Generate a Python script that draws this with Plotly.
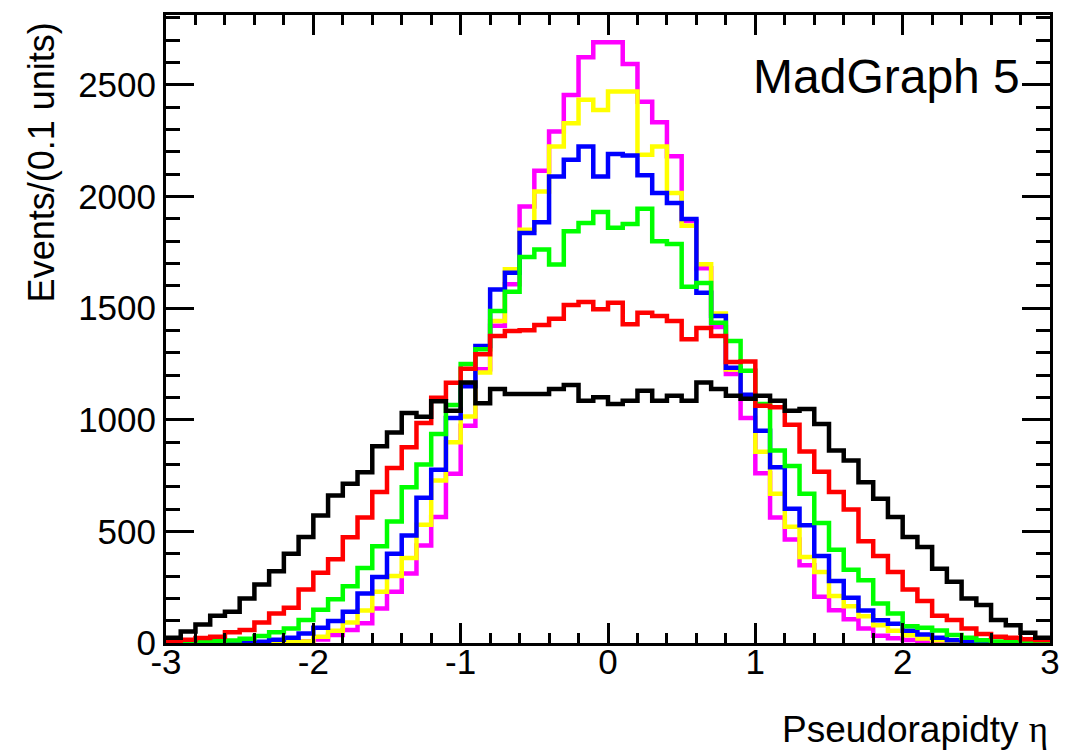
import plotly.graph_objects as go

# Pseudorapidity histograms, 60 bins of width 0.1 from -3 to 3
bin_lo = -3.0
bin_w = 0.1
n_bins = 60

magenta = [0, 0, 0, 0, 0, 1, 1, 2, 4, 8,
           16, 36, 58, 88, 155, 229, 311, 437, 564, 758,
           973, 1226, 1420, 1606, 1955, 2115, 2290, 2454, 2623, 2690,
           2690, 2593, 2424, 2332, 2179, 1890, 1678, 1415, 1204, 1008,
           760, 562, 463, 348, 207, 147, 106, 65, 32, 21,
           13, 8, 5, 3, 2, 1, 1, 0, 0, 0]
yellow = [0, 0, 0, 0, 1, 1, 2, 3, 4, 7,
          28, 55, 92, 145, 229, 300, 381, 530, 728, 899,
          1014, 1211, 1442, 1673, 1850, 2022, 2223, 2327, 2432, 2387,
          2470, 2469, 2186, 2223, 2015, 1868, 1696, 1475, 1225, 1105,
          856, 668, 520, 385, 318, 210, 165, 120, 80, 55,
          35, 20, 12, 8, 5, 3, 2, 1, 0, 0]
blue = [0, 0, 1, 1, 2, 3, 6, 15, 24, 42,
        68, 99, 140, 222, 296, 400, 481, 650, 776, 1008,
        1150, 1330, 1583, 1658, 1836, 1884, 2089, 2164, 2223, 2089,
        2190, 2183, 2094, 2015, 1970, 1898, 1568, 1464, 1232, 1112,
        950, 787, 601, 527, 390, 278, 203, 146, 102, 86,
        55, 38, 24, 12, 5, 2, 1, 1, 0, 0]
green = [2, 3, 5, 8, 11, 19, 31, 48, 65, 103,
         149, 196, 254, 336, 433, 544, 697, 799, 936, 1066,
         1249, 1315, 1487, 1573, 1728, 1762, 1695, 1844, 1881, 1930,
         1859, 1876, 1945, 1799, 1787, 1595, 1612, 1434, 1352, 1219,
         1070, 862, 793, 668, 537, 417, 328, 281, 177, 132,
         75, 68, 56, 36, 23, 12, 7, 5, 3, 2]
red = [10, 15, 22, 28, 48, 58, 92, 132, 158, 240,
       314, 375, 473, 562, 676, 784, 876, 985, 1098, 1165,
       1228, 1293, 1375, 1397, 1400, 1424, 1452, 1513, 1527, 1494,
       1524, 1427, 1479, 1464, 1442, 1360, 1410, 1375, 1258, 1260,
       1062, 1056, 977, 858, 767, 676, 598, 456, 390, 318,
       240, 188, 122, 103, 65, 40, 28, 23, 17, 13]
black = [24, 51, 83, 122, 140, 199, 262, 321, 400, 475,
         571, 661, 713, 765, 881, 943, 1030, 1013, 1082, 1040,
         1167, 1073, 1137, 1115, 1115, 1115, 1137, 1155, 1085, 1100,
         1070, 1085, 1129, 1085, 1107, 1085, 1167, 1137, 1107, 1094,
         1107, 1085, 1040, 1048, 981, 862, 817, 720, 646, 564,
         475, 430, 333, 274, 199, 170, 103, 80, 46, 24]

# drawn first -> bottom layer
series = [
    ("magenta", "#ff00ff", magenta),
    ("yellow", "#ffff00", yellow),
    ("blue", "#0000ff", blue),
    ("green", "#00ff00", green),
    ("red", "#ff0000", red),
    ("black", "#000000", black),
]

x_tick_vals = [-3, -2, -1, 0, 1, 2, 3]
x_tick_text = ["-3", "-2", "-1", "0", "1", "2", "3"]
y_tick_vals = [0, 500, 1000, 1500, 2000, 2500]
y_tick_text = ["0", "500", "1000", "1500", "2000", "2500"]

edges = [round(bin_lo + i * bin_w, 10) for i in range(n_bins + 1)]

fig = go.Figure()
for name, color, vals in series:
    fig.add_trace(go.Scatter(
        x=edges,
        y=list(vals) + [vals[-1]],
        mode="lines",
        line=dict(shape="hv", color=color, width=4.5),
        name=name,
        showlegend=False,
        hoverinfo="skip",
    ))

font_family = "Liberation Sans, Arial, Helvetica, sans-serif"

fig.update_layout(
    width=1078,
    height=750,
    margin=dict(l=166, r=28, t=13, b=107),
    paper_bgcolor="white",
    plot_bgcolor="white",
    font=dict(family=font_family, color="black", size=35),
    showlegend=False,
)

fig.update_xaxes(
    range=[-3, 3],
    tickmode="array",
    tickvals=x_tick_vals,
    ticktext=x_tick_text,
    ticks="inside",
    ticklen=20,
    tickwidth=3,
    tickcolor="black",
    minor=dict(dtick=0.2, tick0=0, ticks="inside", ticklen=10, tickwidth=3, tickcolor="black"),
    showline=True,
    linecolor="black",
    linewidth=3,
    mirror="ticks",
    showgrid=False,
    zeroline=False,
    tickfont=dict(size=35),
    ticklabelstandoff=-14,
)
fig.update_yaxes(
    range=[0, 2812],
    tickmode="array",
    tickvals=y_tick_vals,
    ticktext=y_tick_text,
    ticks="inside",
    ticklen=28,
    tickwidth=3,
    tickcolor="black",
    minor=dict(dtick=100, tick0=0, ticks="inside", ticklen=14, tickwidth=3, tickcolor="black"),
    showline=True,
    linecolor="black",
    linewidth=3,
    mirror="ticks",
    showgrid=False,
    zeroline=False,
    tickfont=dict(size=35),
)

fig.add_annotation(
    text="Events/(0.1 units)",
    xref="paper", yref="paper",
    x=-0.141, y=0.992,
    xanchor="center", yanchor="top",
    textangle=-90,
    showarrow=False,
    font=dict(size=36),
)
fig.add_annotation(
    text='Pseudorapidty <span style="font-family:Liberation Serif">η</span>',
    xref="paper", yref="paper",
    x=1.0, y=-0.138,
    xanchor="right", yanchor="middle",
    showarrow=False,
    font=dict(size=37),
)
fig.add_annotation(
    text="MadGraph 5",
    xref="paper", yref="paper",
    x=0.968, y=0.902,
    xanchor="right", yanchor="middle",
    showarrow=False,
    font=dict(size=48),
)

fig.write_html("out.html")
